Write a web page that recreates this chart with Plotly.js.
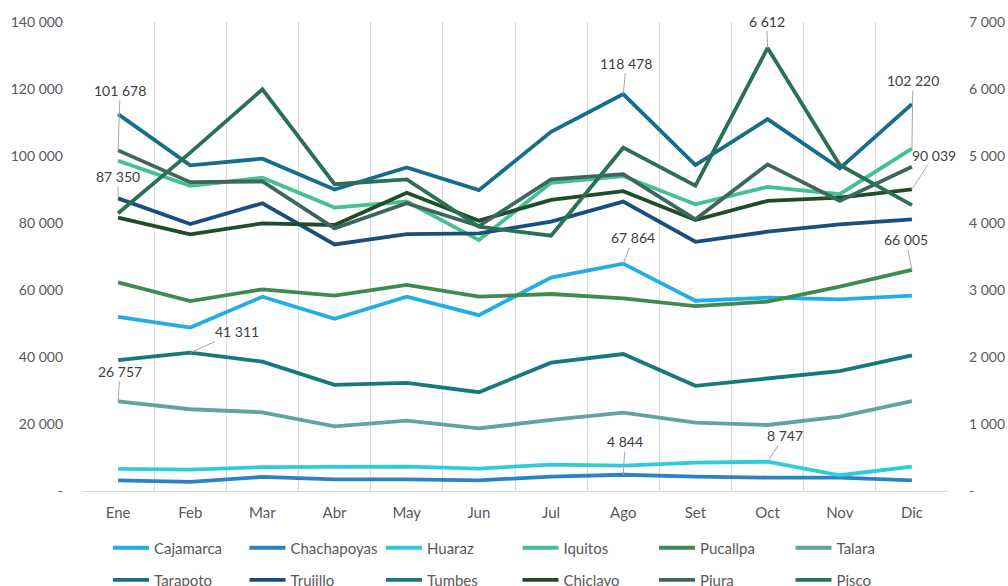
<!DOCTYPE html>
<html>
<head>
<meta charset="utf-8">
<script src="https://cdn.plot.ly/plotly-3.0.1.min.js"></script>
<style>html,body{margin:0;padding:0;background:#fff;}#chart{width:1008px;height:586px;}</style>
</head>
<body>
<div id="chart"></div>
<script>
const months = ['Ene','Feb','Mar','Abr','May','Jun','Jul','Ago','Set','Oct','Nov','Dic'];
const cajamarca   = [52000,48800,58000,51400,58000,52500,63700,67864,56800,57700,57200,58300];
const chachapoyas = [3200,2700,4200,3500,3500,3200,4300,4844,4300,4000,4000,3200];
const huaraz      = [6600,6400,7100,7100,7300,6700,7900,7600,8500,8747,4700,7300];
const iquitos     = [98600,91100,93500,84600,86400,74900,92000,94000,85600,90800,88600,102220];
const pucallpa    = [62300,56700,60200,58300,61500,58000,58800,57500,55200,56500,61000,66005];
const talara      = [26757,24400,23500,19300,21000,18700,21200,23400,20400,19700,22200,26800];
const tarapoto    = [112500,97200,99200,90000,96600,89800,107200,118478,97300,111000,96300,115500];
const trujillo    = [87350,79700,85900,73600,76700,76900,80400,86400,74400,77400,79600,81100];
const tumbes      = [39100,41311,38600,31700,32300,29500,38300,40900,31400,33500,35800,40500];
const chiclayo    = [81600,76600,79900,79400,89000,80700,86900,89500,80900,86600,87600,90039];
const piura       = [101678,92200,92400,78400,85900,79100,93000,94600,81100,97500,86600,96800];
const pisco       = [4145,5050,5995,4578,4652,3945,3810,5124,4557,6612,4866,4268];

const leftTicks  = [0,20000,40000,60000,80000,100000,120000,140000];
const rightTicks = [0,1000,2000,3000,4000,5000,6000,7000];

function fmt(v){ return v === 0 ? '-' : String(v).replace(/\B(?=(\d{3})+(?!\d))/g,' '); }

const series = [
  {name:'Cajamarca',   data:cajamarca,   color:'#21AEE6', axis:'y',  legend:'legend'},
  {name:'Chachapoyas', data:chachapoyas, color:'#2B83C6', axis:'y',  legend:'legend'},
  {name:'Huaraz',      data:huaraz,      color:'#2DCCD8', axis:'y',  legend:'legend'},
  {name:'Iquitos',     data:iquitos,     color:'#45BF94', axis:'y',  legend:'legend'},
  {name:'Pucallpa',    data:pucallpa,    color:'#3D8B53', axis:'y',  legend:'legend'},
  {name:'Talara',      data:talara,      color:'#62A39F', axis:'y',  legend:'legend'},
  {name:'Tarapoto',    data:tarapoto,    color:'#176C8E', axis:'y',  legend:'legend2'},
  {name:'Trujillo',    data:trujillo,    color:'#1A4E7C', axis:'y',  legend:'legend2'},
  {name:'Tumbes',      data:tumbes,      color:'#17797C', axis:'y',  legend:'legend2'},
  {name:'Chiclayo',    data:chiclayo,    color:'#1F4D2B', axis:'y',  legend:'legend2'},
  {name:'Piura',       data:piura,       color:'#3E6660', axis:'y',  legend:'legend2'},
  {name:'Pisco',       data:pisco,       color:'#2A7055', axis:'y2', legend:'legend2'}
];

const traces = series.map(s => ({
  type:'scatter', mode:'lines', name:s.name, x:months, y:s.data,
  yaxis:s.axis, legend:s.legend,
  line:{color:s.color, width:3.8}, hoverinfo:'x+y+name'
}));

// labelled points: [series data, index, text offset x, offset y, yref]
const labels = [
  [piura, 0, 2, -60, 'y'],
  [trujillo, 0, 0, -22, 'y'],
  [tarapoto, 7, 3, -31, 'y'],
  [cajamarca, 7, 10, -26, 'y'],
  [pisco, 9, -1, -27, 'y2'],
  [iquitos, 11, 1, -68, 'y'],
  [chiclayo, 11, 22, -34, 'y'],
  [pucallpa, 11, -6, -30, 'y'],
  [tumbes, 1, 47, -21, 'y'],
  [talara, 0, 2, -30, 'y'],
  [chachapoyas, 7, 2, -33, 'y'],
  [huaraz, 9, 17, -26, 'y']
];

const annotations = labels.map(l => ({
  x: months[l[1]], y: l[0][l[1]], xref:'x', yref:l[4],
  text: fmt(l[0][l[1]]), showarrow:true, arrowhead:0, arrowwidth:1,
  arrowcolor:'#A6A6A6', ax:l[2], ay:l[3], standoff:0, borderpad:1,
  font:{family:'Lato, sans-serif', size:14, color:'#404040'}
}));

const legendBase = {
  orientation:'h', x:0.03, xanchor:'left', yanchor:'middle',
  entrywidth:85.5, entrywidthmode:'pixels', itemwidth:36,
  font:{size:15, color:'#595959'}, bgcolor:'rgba(0,0,0,0)', traceorder:'normal'
};

const layout = {
  width:1008, height:586,
  margin:{l:82, r:60, t:22, b:95, autoexpand:false},
  paper_bgcolor:'#ffffff', plot_bgcolor:'#ffffff',
  font:{family:'Lato, sans-serif', color:'#595959'},
  showlegend:true,
  xaxis:{
    type:'category', range:[-0.5, 11.5], autorange:false,
    tickson:'boundaries', showgrid:true, gridcolor:'#D9D9D9', gridwidth:1,
    showline:true, linecolor:'#D9D9D9', linewidth:1, ticks:'', zeroline:false,
    tickfont:{size:15, color:'#595959'}, ticklabelstandoff:8, fixedrange:true, automargin:false
  },
  yaxis:{
    range:[0,140000], autorange:false, tickvals:leftTicks, ticktext:leftTicks.map(fmt),
    showgrid:false, zeroline:false, showline:false, ticks:'',
    tickfont:{size:14, color:'#595959'}, ticklabelstandoff:18, fixedrange:true, automargin:false
  },
  yaxis2:{
    range:[0,7000], autorange:false, tickvals:rightTicks, ticktext:rightTicks.map(fmt),
    overlaying:'y', side:'right', showgrid:false, zeroline:false, showline:false, ticks:'',
    tickfont:{size:14, color:'#595959'}, ticklabelstandoff:20, fixedrange:true, automargin:false
  },
  legend: Object.assign({}, legendBase, {y:-0.1215}),
  legend2: Object.assign({}, legendBase, {y:-0.19}),
  annotations: annotations
};

Plotly.newPlot('chart', traces, layout, {displayModeBar:false, staticPlot:true});
</script>
</body>
</html>
